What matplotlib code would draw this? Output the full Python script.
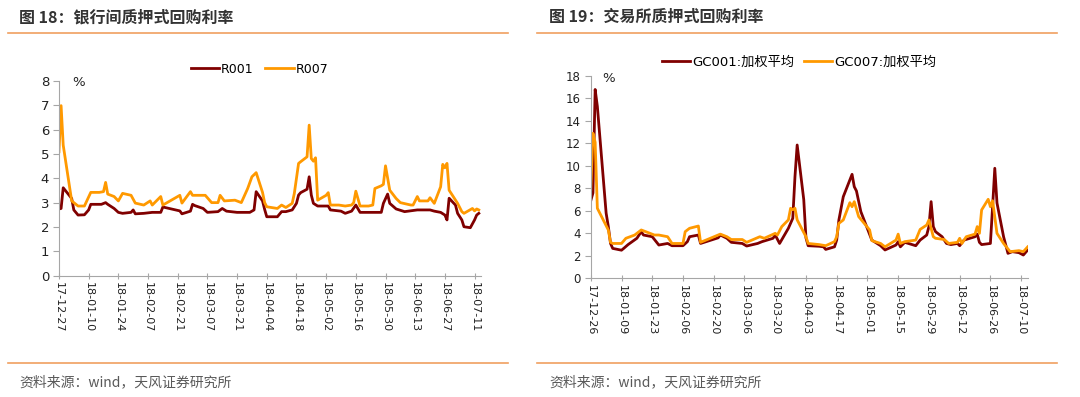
import pandas as pd
import matplotlib
matplotlib.use('Agg')
import matplotlib.pyplot as plt
import matplotlib.dates as mdates
from matplotlib.lines import Line2D

plt.rcParams['font.family'] = ['Noto Sans CJK SC', 'DejaVu Sans']
LATIN = ['DejaVu Sans', 'Noto Sans CJK SC']

# ---- 图18 银行间 ----
r001_dates = ['2017-12-27', '2017-12-28', '2017-12-29', '2018-01-02', '2018-01-03', '2018-01-05',
              '2018-01-08', '2018-01-10', '2018-01-11', '2018-01-16', '2018-01-18', '2018-01-19',
              '2018-01-22', '2018-01-24', '2018-01-26', '2018-01-30', '2018-01-31', '2018-02-01',
              '2018-02-05', '2018-02-09', '2018-02-13', '2018-02-14', '2018-02-22', '2018-02-23',
              '2018-02-27', '2018-02-28', '2018-03-01', '2018-03-05', '2018-03-07', '2018-03-12',
              '2018-03-14', '2018-03-16', '2018-03-21', '2018-03-27', '2018-03-29', '2018-03-30',
              '2018-04-02', '2018-04-03', '2018-04-04', '2018-04-09', '2018-04-11', '2018-04-13',
              '2018-04-16', '2018-04-18', '2018-04-19', '2018-04-20', '2018-04-23', '2018-04-24',
              '2018-04-25', '2018-04-26', '2018-04-28', '2018-05-03', '2018-05-04', '2018-05-09',
              '2018-05-11', '2018-05-14', '2018-05-16', '2018-05-18', '2018-05-23', '2018-05-28',
              '2018-05-29', '2018-05-31', '2018-06-01', '2018-06-04', '2018-06-08', '2018-06-14',
              '2018-06-20', '2018-06-22', '2018-06-25', '2018-06-27', '2018-06-28', '2018-06-29',
              '2018-07-02', '2018-07-03', '2018-07-05', '2018-07-06', '2018-07-09', '2018-07-11',
              '2018-07-12', '2018-07-13']
r001 = [2.74, 2.76, 3.61, 3.17, 2.70, 2.49,
        2.50, 2.70, 2.93, 2.93, 3.00, 2.93,
        2.76, 2.60, 2.56, 2.60, 2.70, 2.54,
        2.56, 2.60, 2.60, 2.82, 2.66, 2.54,
        2.65, 2.93, 2.88, 2.76, 2.60, 2.63,
        2.76, 2.65, 2.60, 2.60, 2.70, 3.45,
        3.07, 2.72, 2.42, 2.42, 2.63, 2.63,
        2.70, 2.97, 3.31, 3.41, 3.55, 4.06,
        3.31, 2.97, 2.86, 2.86, 2.70, 2.65,
        2.56, 2.65, 2.90, 2.60, 2.60, 2.60,
        2.97, 3.35, 2.97, 2.74, 2.63, 2.70,
        2.70, 2.65, 2.60, 2.49, 2.29, 3.18,
        2.90, 2.56, 2.29, 2.01, 1.97, 2.29,
        2.49, 2.56]

r007_dates = ['2017-12-27', '2017-12-28', '2017-12-29', '2018-01-02', '2018-01-05', '2018-01-08',
              '2018-01-11', '2018-01-15', '2018-01-17', '2018-01-18', '2018-01-19', '2018-01-22',
              '2018-01-24', '2018-01-26', '2018-01-30', '2018-02-01', '2018-02-05', '2018-02-08',
              '2018-02-09', '2018-02-13', '2018-02-14', '2018-02-22', '2018-02-23', '2018-02-27',
              '2018-02-28', '2018-03-06', '2018-03-09', '2018-03-12', '2018-03-13', '2018-03-15',
              '2018-03-20', '2018-03-23', '2018-03-26', '2018-03-28', '2018-03-30', '2018-04-02',
              '2018-04-03', '2018-04-04', '2018-04-09', '2018-04-11', '2018-04-13', '2018-04-16',
              '2018-04-17', '2018-04-19', '2018-04-20', '2018-04-23', '2018-04-24', '2018-04-25',
              '2018-04-26', '2018-04-27', '2018-04-28', '2018-05-02', '2018-05-03', '2018-05-04',
              '2018-05-08', '2018-05-11', '2018-05-14', '2018-05-15', '2018-05-16', '2018-05-18',
              '2018-05-22', '2018-05-24', '2018-05-25', '2018-05-28', '2018-05-29', '2018-05-30',
              '2018-06-01', '2018-06-04', '2018-06-06', '2018-06-11', '2018-06-12', '2018-06-14',
              '2018-06-15', '2018-06-19', '2018-06-20', '2018-06-22', '2018-06-25', '2018-06-26',
              '2018-06-27', '2018-06-28', '2018-06-29', '2018-07-03', '2018-07-05', '2018-07-06',
              '2018-07-10', '2018-07-11', '2018-07-12', '2018-07-13']
r007 = [5.09, 6.98, 5.36, 3.07, 2.86, 2.86,
        3.42, 3.42, 3.45, 3.83, 3.35, 3.25,
        3.07, 3.38, 3.30, 2.98, 2.90, 3.07,
        2.90, 3.25, 2.90, 3.30, 2.98, 3.45,
        3.30, 3.30, 3.00, 3.00, 3.30, 3.07,
        3.10, 3.00, 3.58, 4.06, 4.23, 3.42,
        3.00, 2.83, 2.76, 2.90, 2.80, 2.97,
        3.38, 4.61, 4.68, 4.88, 6.18, 4.81,
        4.70, 4.84, 3.10, 3.30, 3.41, 2.90,
        2.90, 2.86, 2.90, 3.00, 3.47, 2.86,
        2.86, 2.90, 3.58, 3.69, 3.75, 4.51,
        3.51, 3.17, 3.00, 2.90, 2.90, 3.25,
        3.07, 3.07, 3.20, 2.97, 3.65, 4.57,
        4.43, 4.61, 3.51, 2.97, 2.63, 2.56,
        2.76, 2.66, 2.74, 2.70]

# ---- 图19 交易所 ----
gc001_dates = ['2017-12-26', '2017-12-27', '2017-12-28', '2017-12-29', '2018-01-02', '2018-01-03',
               '2018-01-04', '2018-01-05', '2018-01-09', '2018-01-10', '2018-01-12', '2018-01-16',
               '2018-01-18', '2018-01-19', '2018-01-23', '2018-01-26', '2018-01-30', '2018-02-01',
               '2018-02-06', '2018-02-08', '2018-02-09', '2018-02-13', '2018-02-14', '2018-02-22',
               '2018-02-23', '2018-02-26', '2018-02-28', '2018-03-05', '2018-03-07', '2018-03-12',
               '2018-03-14', '2018-03-19', '2018-03-20', '2018-03-22', '2018-03-26', '2018-03-28',
               '2018-03-29', '2018-03-30', '2018-04-02', '2018-04-03', '2018-04-04', '2018-04-09',
               '2018-04-11', '2018-04-12', '2018-04-16', '2018-04-17', '2018-04-18', '2018-04-20',
               '2018-04-24', '2018-04-25', '2018-04-26', '2018-04-28', '2018-05-03', '2018-05-07',
               '2018-05-09', '2018-05-14', '2018-05-15', '2018-05-16', '2018-05-18', '2018-05-23',
               '2018-05-25', '2018-05-28', '2018-05-29', '2018-05-30', '2018-05-31', '2018-06-01',
               '2018-06-04', '2018-06-06', '2018-06-08', '2018-06-11', '2018-06-12', '2018-06-14',
               '2018-06-19', '2018-06-20', '2018-06-21', '2018-06-22', '2018-06-26', '2018-06-27',
               '2018-06-28', '2018-06-29', '2018-07-02', '2018-07-04', '2018-07-06', '2018-07-09',
               '2018-07-11', '2018-07-13']
gc001 = [6.9, 7.6, 16.8, 15.3, 5.8, 4.6,
         3.1, 2.66, 2.5, 2.66, 3.0, 3.56,
         4.15, 3.85, 3.7, 2.96, 3.1, 2.9,
         2.9, 3.26, 3.7, 3.85, 3.1, 3.6,
         3.85, 3.56, 3.2, 3.1, 2.87, 3.1,
         3.26, 3.56, 3.85, 3.1, 4.45, 5.34,
         9.04, 11.86, 7.0, 3.6, 2.9, 2.85,
         2.8, 2.57, 2.8, 3.4, 5.19, 7.26,
         9.25, 8.15, 7.77, 5.93, 3.4, 2.9,
         2.52, 2.96, 3.26, 2.8, 3.2, 2.9,
         3.4, 3.85, 4.6, 6.82, 4.6, 4.15,
         3.7, 3.1, 3.0, 3.1, 2.9, 3.4,
         3.7, 3.93, 3.2, 3.0, 3.1, 6.37,
         9.79, 6.7, 3.7, 2.22, 2.37, 2.28,
         2.07, 2.52]

gc007_dates = ['2017-12-26', '2017-12-27', '2017-12-28', '2017-12-29', '2018-01-03', '2018-01-04',
               '2018-01-05', '2018-01-09', '2018-01-11', '2018-01-15', '2018-01-18', '2018-01-22',
               '2018-01-24', '2018-01-26', '2018-01-30', '2018-02-01', '2018-02-06', '2018-02-07',
               '2018-02-09', '2018-02-13', '2018-02-14', '2018-02-23', '2018-02-26', '2018-02-28',
               '2018-03-05', '2018-03-07', '2018-03-13', '2018-03-15', '2018-03-20', '2018-03-21',
               '2018-03-23', '2018-03-26', '2018-03-27', '2018-03-28', '2018-03-29', '2018-03-30',
               '2018-04-03', '2018-04-04', '2018-04-09', '2018-04-12', '2018-04-16', '2018-04-17',
               '2018-04-18', '2018-04-20', '2018-04-23', '2018-04-24', '2018-04-25', '2018-04-27',
               '2018-05-02', '2018-05-03', '2018-05-07', '2018-05-09', '2018-05-14', '2018-05-15',
               '2018-05-16', '2018-05-18', '2018-05-23', '2018-05-25', '2018-05-28', '2018-05-29',
               '2018-05-31', '2018-06-01', '2018-06-05', '2018-06-07', '2018-06-11', '2018-06-12',
               '2018-06-13', '2018-06-15', '2018-06-19', '2018-06-20', '2018-06-21', '2018-06-22',
               '2018-06-25', '2018-06-26', '2018-06-27', '2018-06-29', '2018-07-02', '2018-07-05',
               '2018-07-09', '2018-07-11', '2018-07-13']
gc007 = [7.9, 12.9, 12.1, 6.23, 4.3, 3.2,
         3.1, 3.1, 3.56, 3.85, 4.3, 4.0,
         3.85, 3.85, 3.7, 3.1, 3.1, 4.15,
         4.45, 4.65, 3.2, 3.93, 3.7, 3.45,
         3.45, 3.2, 3.7, 3.56, 4.0, 3.85,
         4.6, 5.2, 6.23, 6.1, 6.23, 5.2,
         3.7, 3.1, 3.0, 2.9, 3.26, 3.7,
         4.89, 5.19, 6.73, 6.37, 6.82, 5.49,
         4.3, 3.35, 3.1, 2.8, 3.4, 3.93,
         3.1, 3.26, 3.4, 4.35, 4.74, 5.19,
         3.7, 3.56, 3.45, 3.1, 3.2, 3.56,
         3.1, 3.7, 3.93, 4.6, 4.0, 6.08,
         7.03, 6.37, 6.9, 4.0, 3.1, 2.37,
         2.46, 2.37, 2.8]

DARK = '#800000'
ORANGE = '#FF9900'
RULE = '#F0A060'
AXC = '#A6A6A6'


def style_axis(ax, start, end, ymax, ystep, ysize):
    ax.set_xlim(pd.Timestamp(start), pd.Timestamp(end))
    ax.set_ylim(0, ymax)
    ax.set_yticks(range(0, ymax + 1, ystep))
    ticks = pd.date_range(start, periods=15, freq='14D')
    ax.set_xticks(ticks)
    ax.xaxis.set_major_formatter(mdates.DateFormatter('%y-%m-%d'))
    for s in ['top', 'right']:
        ax.spines[s].set_visible(False)
    for s in ['left', 'bottom']:
        ax.spines[s].set_color(AXC)
    ax.tick_params(axis='x', direction='inout', length=5, color=AXC, labelsize=8,
                   labelrotation=-90, pad=2, labelcolor='#222222')
    ax.tick_params(axis='y', direction='out', length=4, color=AXC, labelsize=ysize,
                   pad=3, labelcolor='#222222')
    for lab in ax.get_xticklabels() + ax.get_yticklabels():
        lab.set_family(LATIN)
    for lab in ax.get_xticklabels():
        lab.set_va('top')
        lab.set_ha('center')


fig = plt.figure(figsize=(10.8, 3.97), dpi=100)

ax1 = fig.add_axes([0.0546, 0.3055, 0.3907, 0.491])
ax1.plot(pd.to_datetime(r001_dates), r001, color=DARK, lw=2.0, label='R001')
ax1.plot(pd.to_datetime(r007_dates), r007, color=ORANGE, lw=2.0, label='R007')
style_axis(ax1, '2017-12-27', '2018-07-14', 8, 1, 9.5)
ax1.legend(loc='center', bbox_to_anchor=(0.2403, 0.826), bbox_transform=fig.transFigure,
           ncol=2, frameon=False, prop={'family': LATIN, 'size': 9}, handlelength=2.3,
           handletextpad=0.15, columnspacing=0.9)

ax2 = fig.add_axes([0.547, 0.299, 0.4046, 0.5096])
ax2.plot(pd.to_datetime(gc001_dates), gc001, color=DARK, lw=2.0, label='GC001:加权平均')
ax2.plot(pd.to_datetime(gc007_dates), gc007, color=ORANGE, lw=2.0, label='GC007:加权平均')
style_axis(ax2, '2017-12-26', '2018-07-13', 18, 2, 8.5)
ax2.legend(loc='center', bbox_to_anchor=(0.74, 0.844), bbox_transform=fig.transFigure,
           ncol=2, frameon=False, prop={'family': LATIN, 'size': 9.5}, handlelength=2.1,
           handletextpad=0.15, columnspacing=0.8)

fig.text(79 / 1080, 1 - 82 / 397, '%', fontsize=9.5, ha='center', va='center',
         color='#222222', family=LATIN)
fig.text(609 / 1080, 1 - 78 / 397, '%', fontsize=9.5, ha='center', va='center',
         color='#222222', family=LATIN)

# titles, rules, source
fig.text(19 / 1080, 1 - 17 / 397, '图 18：银行间质押式回购利率', fontsize=11.5, fontweight='bold',
         ha='left', va='center', color='#333333')
fig.text(549 / 1080, 1 - 17 / 397, '图 19：交易所质押式回购利率', fontsize=11.5, fontweight='bold',
         ha='left', va='center', color='#333333')
for x0, x1 in [(8, 508), (537, 1057)]:
    for yy in [33, 363]:
        fig.add_artist(Line2D([x0 / 1080, x1 / 1080], [1 - yy / 397, 1 - yy / 397],
                              color=RULE, lw=1.2))
fig.text(19 / 1080, 1 - 382 / 397, '资料来源：wind，天风证券研究所', fontsize=10,
         ha='left', va='center', color='#595959')
fig.text(549 / 1080, 1 - 382 / 397, '资料来源：wind，天风证券研究所', fontsize=10,
         ha='left', va='center', color='#595959')

fig.savefig('out.png', dpi=100)
